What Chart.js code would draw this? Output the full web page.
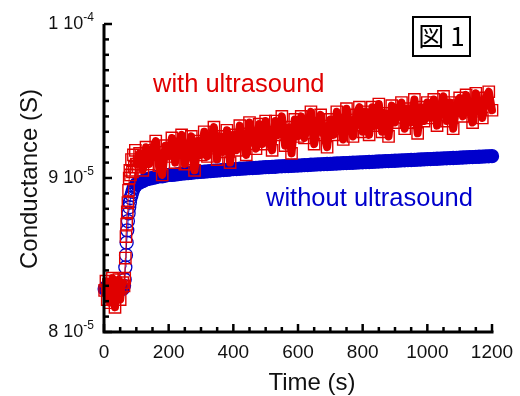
<!DOCTYPE html>
<html>
<head>
<meta charset="utf-8">
<script src="https://cdn.jsdelivr.net/npm/chart.js@4"></script>
<style>
  html, body { margin: 0; padding: 0; background: #fff; }
  #wrap { width: 520px; height: 396px; }
</style>
</head>
<body>
<div id="wrap"><canvas id="chart" width="520" height="396"></canvas></div>
<script>
// Time axis (s) and conductance values (units of 1e-5 S)
const timeS = [
  2, 6, 10, 14, 18, 22, 26, 30, 34, 38, 42, 46, 50, 54, 58,
  62, 64, 66, 68, 70, 72, 74, 76, 78, 80, 82, 85, 88, 91, 94, 97, 100,
  110, 120, 130, 140, 150, 160, 170, 180, 190, 200,
  210, 220, 230, 240, 250, 260, 270, 280, 290, 300,
  310, 320, 330, 340, 350, 360, 370, 380, 390, 400,
  410, 420, 430, 440, 450, 460, 470, 480, 490, 500,
  510, 520, 530, 540, 550, 560, 570, 580, 590, 600,
  610, 620, 630, 640, 650, 660, 670, 680, 690, 700,
  710, 720, 730, 740, 750, 760, 770, 780, 790, 800,
  810, 820, 830, 840, 850, 860, 870, 880, 890, 900,
  910, 920, 930, 940, 950, 960, 970, 980, 990, 1000,
  1010, 1020, 1030, 1040, 1050, 1060, 1070, 1080, 1090, 1100,
  1110, 1120, 1130, 1140, 1150, 1160, 1170, 1180, 1190, 1200
];

const withUltrasound = [
  8.27, 8.33, 8.21, 8.31, 8.19, 8.29, 8.35, 8.24, 8.16, 8.30, 8.25, 8.34, 8.21, 8.29, 8.32,
  8.30, 8.35, 8.48, 8.62, 8.70, 8.78, 8.84, 8.92, 9.00, 9.05, 9.02, 9.12, 9.04, 9.15, 9.07, 9.18, 9.09,
  9.16, 9.05, 9.20, 9.09, 9.18, 9.24, 9.08, 9.02, 9.21, 9.14,
  9.26, 9.10, 9.22, 9.28, 9.09, 9.19, 9.27, 9.05, 9.24, 9.15,
  9.30, 9.14, 9.25, 9.33, 9.12, 9.27, 9.17, 9.31, 9.10, 9.28,
  9.18, 9.34, 9.24, 9.15, 9.36, 9.27, 9.19, 9.35, 9.22, 9.37,
  9.25, 9.18, 9.37, 9.28, 9.40, 9.21, 9.33, 9.16, 9.38, 9.27,
  9.40, 9.26, 9.35, 9.43, 9.22, 9.33, 9.41, 9.28, 9.20, 9.38,
  9.28, 9.43, 9.35, 9.25, 9.45, 9.33, 9.27, 9.41, 9.46, 9.30,
  9.43, 9.28, 9.46, 9.34, 9.48, 9.30, 9.42, 9.27, 9.47, 9.36,
  9.44, 9.49, 9.32, 9.45, 9.36, 9.51, 9.29, 9.46, 9.37, 9.49,
  9.39, 9.51, 9.34, 9.46, 9.53, 9.37, 9.49, 9.32, 9.47, 9.52,
  9.40, 9.54, 9.46, 9.36, 9.55, 9.47, 9.39, 9.52, 9.56, 9.44
];

const withoutUltrasound = [
  8.28, 8.29, 8.27, 8.28, 8.29, 8.28, 8.27, 8.29, 8.28, 8.28, 8.29, 8.27, 8.28, 8.29, 8.28,
  8.30, 8.34, 8.42, 8.50, 8.58, 8.66, 8.72, 8.77, 8.81, 8.84, 8.87, 8.89, 8.91, 8.93, 8.94, 8.95, 8.96,
  8.97, 8.98, 8.99, 8.995, 9.00, 9.005, 9.01, 9.01, 9.015, 9.02,
  9.02, 9.022, 9.025, 9.028, 9.03, 9.032, 9.034, 9.036, 9.038, 9.04,
  9.041, 9.043, 9.045, 9.047, 9.048, 9.05, 9.052, 9.053, 9.055, 9.057,
  9.058, 9.06, 9.061, 9.062, 9.064, 9.065, 9.066, 9.067, 9.069, 9.07,
  9.071, 9.072, 9.073, 9.075, 9.076, 9.077, 9.078, 9.079, 9.08, 9.081,
  9.082, 9.083, 9.084, 9.086, 9.087, 9.088, 9.089, 9.09, 9.091, 9.092,
  9.093, 9.094, 9.095, 9.096, 9.097, 9.098, 9.099, 9.10, 9.101, 9.102,
  9.103, 9.104, 9.105, 9.106, 9.107, 9.108, 9.109, 9.11, 9.111, 9.112,
  9.113, 9.114, 9.115, 9.116, 9.117, 9.118, 9.119, 9.12, 9.121, 9.122,
  9.123, 9.124, 9.125, 9.126, 9.127, 9.128, 9.129, 9.13, 9.131, 9.132,
  9.133, 9.134, 9.135, 9.136, 9.137, 9.138, 9.139, 9.14, 9.141, 9.142
];

// Tick labels
const xTicks = [0, 200, 400, 600, 800, 1000, 1200];
const xTickLabels = ['0', '200', '400', '600', '800', '1000', '1200'];
const yTicks = [8, 9, 10];
const yTickLabels = [['8 10', '-5'], ['9 10', '-5'], ['1 10', '-4']];

const RED = '#e00000';
const BLUE = '#0000cc';
const FONT = '"Liberation Sans", Arial, sans-serif';

function toPoints(xs, ys) {
  return xs.map((x, i) => ({ x: x, y: ys[i] }));
}

// thin connecting line only during the jump, thick elsewhere (dense data look)
function bandWidth(thick) {
  return c => (c.p1.parsed.x > 60 && c.p0.parsed.x < 100) ? 1 : thick;
}

// Axes, ticks and text drawn over the data
const axesPlugin = {
  id: 'axesPlugin',
  afterDatasetsDraw(chart) {
    const ctx = chart.ctx;
    const xs = chart.scales.x;
    const ys = chart.scales.y;
    const left = xs.getPixelForValue(0);
    const right = xs.getPixelForValue(1200);
    const top = ys.getPixelForValue(10);
    const bottom = ys.getPixelForValue(8);

    ctx.save();
    ctx.strokeStyle = '#000';
    ctx.lineWidth = 3;
    ctx.beginPath();
    ctx.moveTo(left, top);
    ctx.lineTo(left, bottom);
    ctx.lineTo(right + 1.5, bottom);
    ctx.stroke();

    // y ticks (inside)
    ctx.lineWidth = 2.5;
    for (let i = 0; i <= 20; i++) {
      const py = ys.getPixelForValue(8 + i * 0.1);
      const len = (i % 10 === 0) ? 8 : 5;
      ctx.beginPath();
      ctx.moveTo(left, py);
      ctx.lineTo(left + len, py);
      ctx.stroke();
    }
    // x ticks (inside)
    for (let v = 0; v <= 1200; v += 50) {
      const px = xs.getPixelForValue(v);
      const len = (v % 200 === 0) ? 8 : 5;
      ctx.beginPath();
      ctx.moveTo(px, bottom);
      ctx.lineTo(px, bottom - len);
      ctx.stroke();
    }

    // tick labels
    ctx.fillStyle = '#111';
    ctx.font = '19px ' + FONT;
    ctx.textAlign = 'center';
    ctx.textBaseline = 'alphabetic';
    xTicks.forEach((v, i) => {
      ctx.fillText(xTickLabels[i], xs.getPixelForValue(v), 358);
    });
    yTicks.forEach((v, i) => {
      const py = ys.getPixelForValue(v);
      ctx.font = '12px ' + FONT;
      ctx.textAlign = 'right';
      ctx.fillText(yTickLabels[i][1], 94, py - 3);
      const supW = ctx.measureText(yTickLabels[i][1]).width;
      ctx.font = '18px ' + FONT;
      ctx.fillText(yTickLabels[i][0], 94 - supW, py + 5);
    });

    // axis titles
    ctx.font = '24px ' + FONT;
    ctx.textAlign = 'center';
    ctx.fillText('Time (s)', 312, 390);
    ctx.save();
    ctx.translate(37, 179);
    ctx.rotate(-Math.PI / 2);
    ctx.fillText('Conductance (S)', 0, 0);
    ctx.restore();

    // series labels
    ctx.font = '25.5px ' + FONT;
    ctx.textAlign = 'left';
    ctx.fillStyle = RED;
    ctx.fillText('with ultrasound', 153, 92);
    ctx.fillStyle = BLUE;
    ctx.fillText('without ultrasound', 266, 206);

    // figure tag
    ctx.strokeStyle = '#000';
    ctx.lineWidth = 2;
    ctx.strokeRect(413, 17, 57, 39);
    ctx.fillStyle = '#000';
    ctx.font = '26px "Noto Sans CJK JP", ' + FONT;
    ctx.textAlign = 'center';
    ctx.fillText('図 1', 441.5, 46);
    ctx.restore();
  }
};

const chart = new Chart(document.getElementById('chart'), {
  type: 'scatter',
  data: {
    datasets: [
      {
        label: 'with ultrasound',
        data: toPoints(timeS, withUltrasound),
        pointStyle: 'rect',
        pointRadius: 8,
        pointBorderWidth: 1.4,
        pointBorderColor: RED,
        pointBackgroundColor: 'rgba(0,0,0,0)',
        showLine: true,
        borderColor: RED,
        borderWidth: 8,
        borderJoinStyle: 'round',
        borderCapStyle: 'round',
        segment: { borderWidth: bandWidth(8) },
        clip: false,
        order: 0
      },
      {
        label: 'without ultrasound',
        data: toPoints(timeS, withoutUltrasound),
        pointStyle: 'circle',
        pointRadius: 6.5,
        pointBorderWidth: 1.3,
        pointBorderColor: BLUE,
        pointBackgroundColor: 'rgba(0,0,0,0)',
        showLine: true,
        borderColor: BLUE,
        borderWidth: 13,
        borderJoinStyle: 'round',
        borderCapStyle: 'round',
        segment: { borderWidth: bandWidth(13) },
        clip: false,
        order: 1
      }
    ]
  },
  options: {
    responsive: false,
    animation: false,
    devicePixelRatio: 1,
    layout: { padding: { left: 104, right: 28, top: 24, bottom: 64 } },
    plugins: { legend: { display: false }, tooltip: { enabled: false } },
    scales: {
      x: { type: 'linear', min: 0, max: 1200, display: false },
      y: { type: 'linear', min: 8, max: 10, display: false }
    }
  },
  plugins: [axesPlugin]
});
</script>
</body>
</html>
